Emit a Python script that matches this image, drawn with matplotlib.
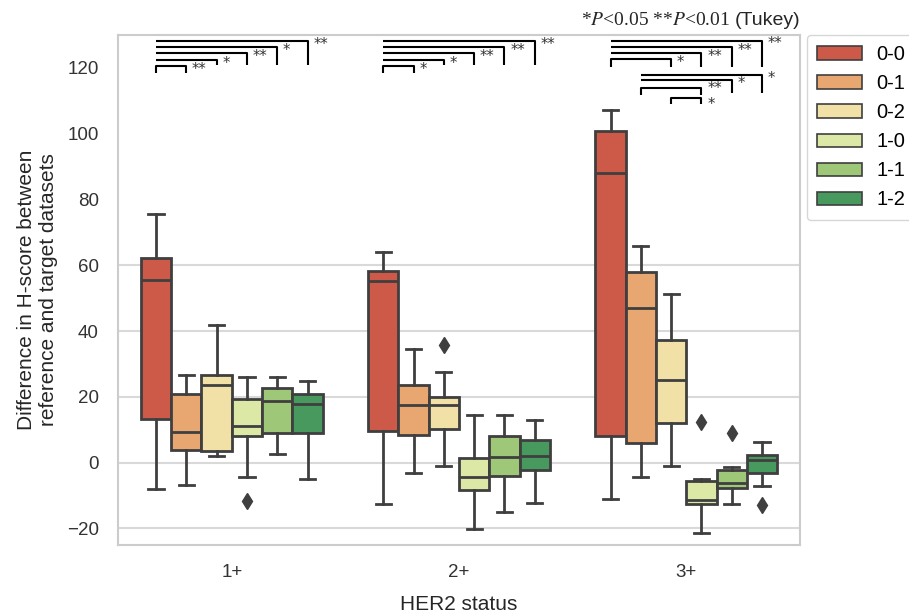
import matplotlib
matplotlib.use("Agg")
import matplotlib.pyplot as plt
import seaborn as sns
from matplotlib.patches import Patch

groups = ["1+", "2+", "3+"]
hues = ["0-0", "0-1", "0-2", "1-0", "1-1", "1-2"]

# box statistics, [group][hue]
whis_low = [[-7.9, -6.9, 1.9, -4.4, 2.7, -4.9],
            [-12.7, -3.1, -1.1, -20.3, -15.0, -12.4],
            [-11.0, -4.4, -1.1, -21.5, -12.7, -7.2]]
q1 = [[13.3, 3.9, 3.4, 8.0, 9.0, 9.0],
      [9.7, 8.5, 10.2, -8.2, -4.2, -2.3],
      [8.0, 6.0, 12.0, -12.7, -7.7, -3.1]]
median = [[55.5, 9.2, 23.7, 11.0, 18.6, 17.8],
          [55.3, 17.6, 17.6, -4.5, 1.7, 1.9],
          [88.1, 47.1, 25.2, -11.5, -6.2, 0.9]]
q3 = [[62.1, 20.9, 26.5, 19.3, 22.7, 20.9],
      [58.4, 23.7, 19.9, 1.4, 8.0, 6.8],
      [100.9, 57.9, 37.3, -5.7, -2.3, 2.2]]
whis_high = [[75.6, 26.5, 41.7, 26.0, 26.0, 24.9],
             [64.1, 34.6, 27.7, 14.4, 14.4, 13.1],
             [107.1, 65.9, 51.3, -4.9, -1.4, 6.2]]
outliers = [[[], [], [], [-11.7], [], []],
            [[], [], [35.8], [], [], []],
            [[], [], [], [12.5], [9.0], [-13.0]]]

# significance brackets: group, hue from, hue to, line level, drop end, label
br_group = [0, 0, 0, 0, 0, 1, 1, 1, 1, 1, 2, 2, 2, 2, 2, 2, 2, 2]
br_from = [0, 0, 0, 0, 0, 0, 0, 0, 0, 0, 0, 0, 0, 0, 1, 1, 1, 2]
br_to = [5, 4, 3, 2, 1, 5, 4, 3, 2, 1, 5, 4, 3, 2, 5, 4, 3, 3]
br_y = [128.2, 126.3, 124.5, 122.5, 120.5, 128.2, 126.3, 124.5, 122.5, 120.5,
        128.3, 126.3, 124.6, 122.8, 117.8, 116.2, 114.0, 110.9]
br_end = [121, 121, 121, 121, 118.5, 121, 121, 121, 121, 118.5,
          120.2, 120.2, 120.2, 120.2, 112.3, 112.3, 111.9, 108.9]
br_label = ["**", "*", "**", "*", "**", "**", "**", "**", "*", "*",
            "**", "**", "**", "*", "*", "*", "**", "*"]

plt.rcParams["font.family"] = ["Liberation Sans", "DejaVu Sans"]
plt.rcParams["mathtext.fontset"] = "stix"

colors = [sns.desaturate(c, 0.75) for c in sns.color_palette("RdYlGn", 6)]
line_c = "#3f3f3f"

fig = plt.figure(figsize=(9.09, 6.15), dpi=100)
ax = fig.add_axes([0.13, 0.114, 0.75, 0.829])

for y in [-20, 0, 20, 40, 60]:
    ax.axhline(y, color="#d9d9d9", lw=1.5, zorder=0)

w = 0.8 / len(hues)
for g in range(len(groups)):
    for h in range(len(hues)):
        st = dict(whislo=whis_low[g][h], q1=q1[g][h], med=median[g][h],
                  q3=q3[g][h], whishi=whis_high[g][h], fliers=outliers[g][h])
        pos = g + (h - 2.5) * w
        ax.bxp([st], positions=[pos], widths=w, patch_artist=True,
               boxprops=dict(facecolor=colors[h], edgecolor=line_c, lw=2),
               medianprops=dict(color=line_c, lw=2),
               whiskerprops=dict(color=line_c, lw=2),
               capprops=dict(color=line_c, lw=2),
               flierprops=dict(marker="d", markerfacecolor=line_c,
                               markeredgecolor=line_c, markersize=8))

# small nudges so the stacked star labels in 3+ do not collide
label_nudge = {16: 0.9, 17: -0.9}
for k in range(len(br_y)):
    g = br_group[k]
    x1 = g + (br_from[k] - 2.5) * w
    x2 = g + (br_to[k] - 2.5) * w
    lowest = all(br_y[m] >= br_y[k] for m in range(len(br_y))
                 if br_group[m] == g and br_from[m] == br_from[k])
    if lowest:
        ax.plot([x1, x1, x2, x2], [br_end[k], br_y[k], br_y[k], br_end[k]],
                color="black", lw=1.5, solid_capstyle="butt")
    else:
        ax.plot([x1, x2, x2], [br_y[k], br_y[k], br_end[k]],
                color="black", lw=1.5, solid_capstyle="butt")
    ax.text(x2 + 0.025, br_y[k] - 1.0 + label_nudge.get(k, 0), br_label[k],
            ha="left", va="center", fontsize=10.5, color="#333333",
            family="DejaVu Sans")

ax.set_xlim(-0.5, 2.5)
ax.set_ylim(-25, 130)
ax.set_xticks(range(len(groups)))
ax.set_xticklabels(groups)
ax.set_yticks([-20, 0, 20, 40, 60, 80, 100, 120])
ax.tick_params(length=0, labelsize=13.5, labelcolor="#333333")
ax.tick_params(axis="x", pad=14)
ax.tick_params(axis="y", pad=14)
for s in ax.spines.values():
    s.set_color("#cccccc")
    s.set_linewidth(1.5)
ax.set_xlabel("HER2 status", fontsize=15, color="#262626", labelpad=10)
ax.set_ylabel("Difference in H-score between\nreference and target datasets",
              fontsize=15, color="#262626", labelpad=6)

handles = [Patch(facecolor=colors[h], edgecolor=line_c, lw=1.2, label=hues[h])
           for h in range(len(hues))]
ax.legend(handles=handles, loc="upper left", bbox_to_anchor=(1.01, 1.0),
          fontsize=14.5, handlelength=2.25, handleheight=0.65,
          labelspacing=0.5, handletextpad=0.7, borderpad=0.5,
          frameon=True, edgecolor="#cccccc", borderaxespad=0)

t2 = ax.text(1.0, 1.012, "(Tukey)", transform=ax.transAxes, ha="right",
             va="bottom", fontsize=14, color="#262626")
fig.canvas.draw()
bb = t2.get_window_extent().transformed(ax.transAxes.inverted())
ax.text(bb.x0 - 0.006, 1.012, r"*$P$<0.05 **$P$<0.01", transform=ax.transAxes,
        ha="right", va="bottom", fontsize=14, color="#262626",
        family="Liberation Serif")

fig.savefig("out.png", dpi=100)
